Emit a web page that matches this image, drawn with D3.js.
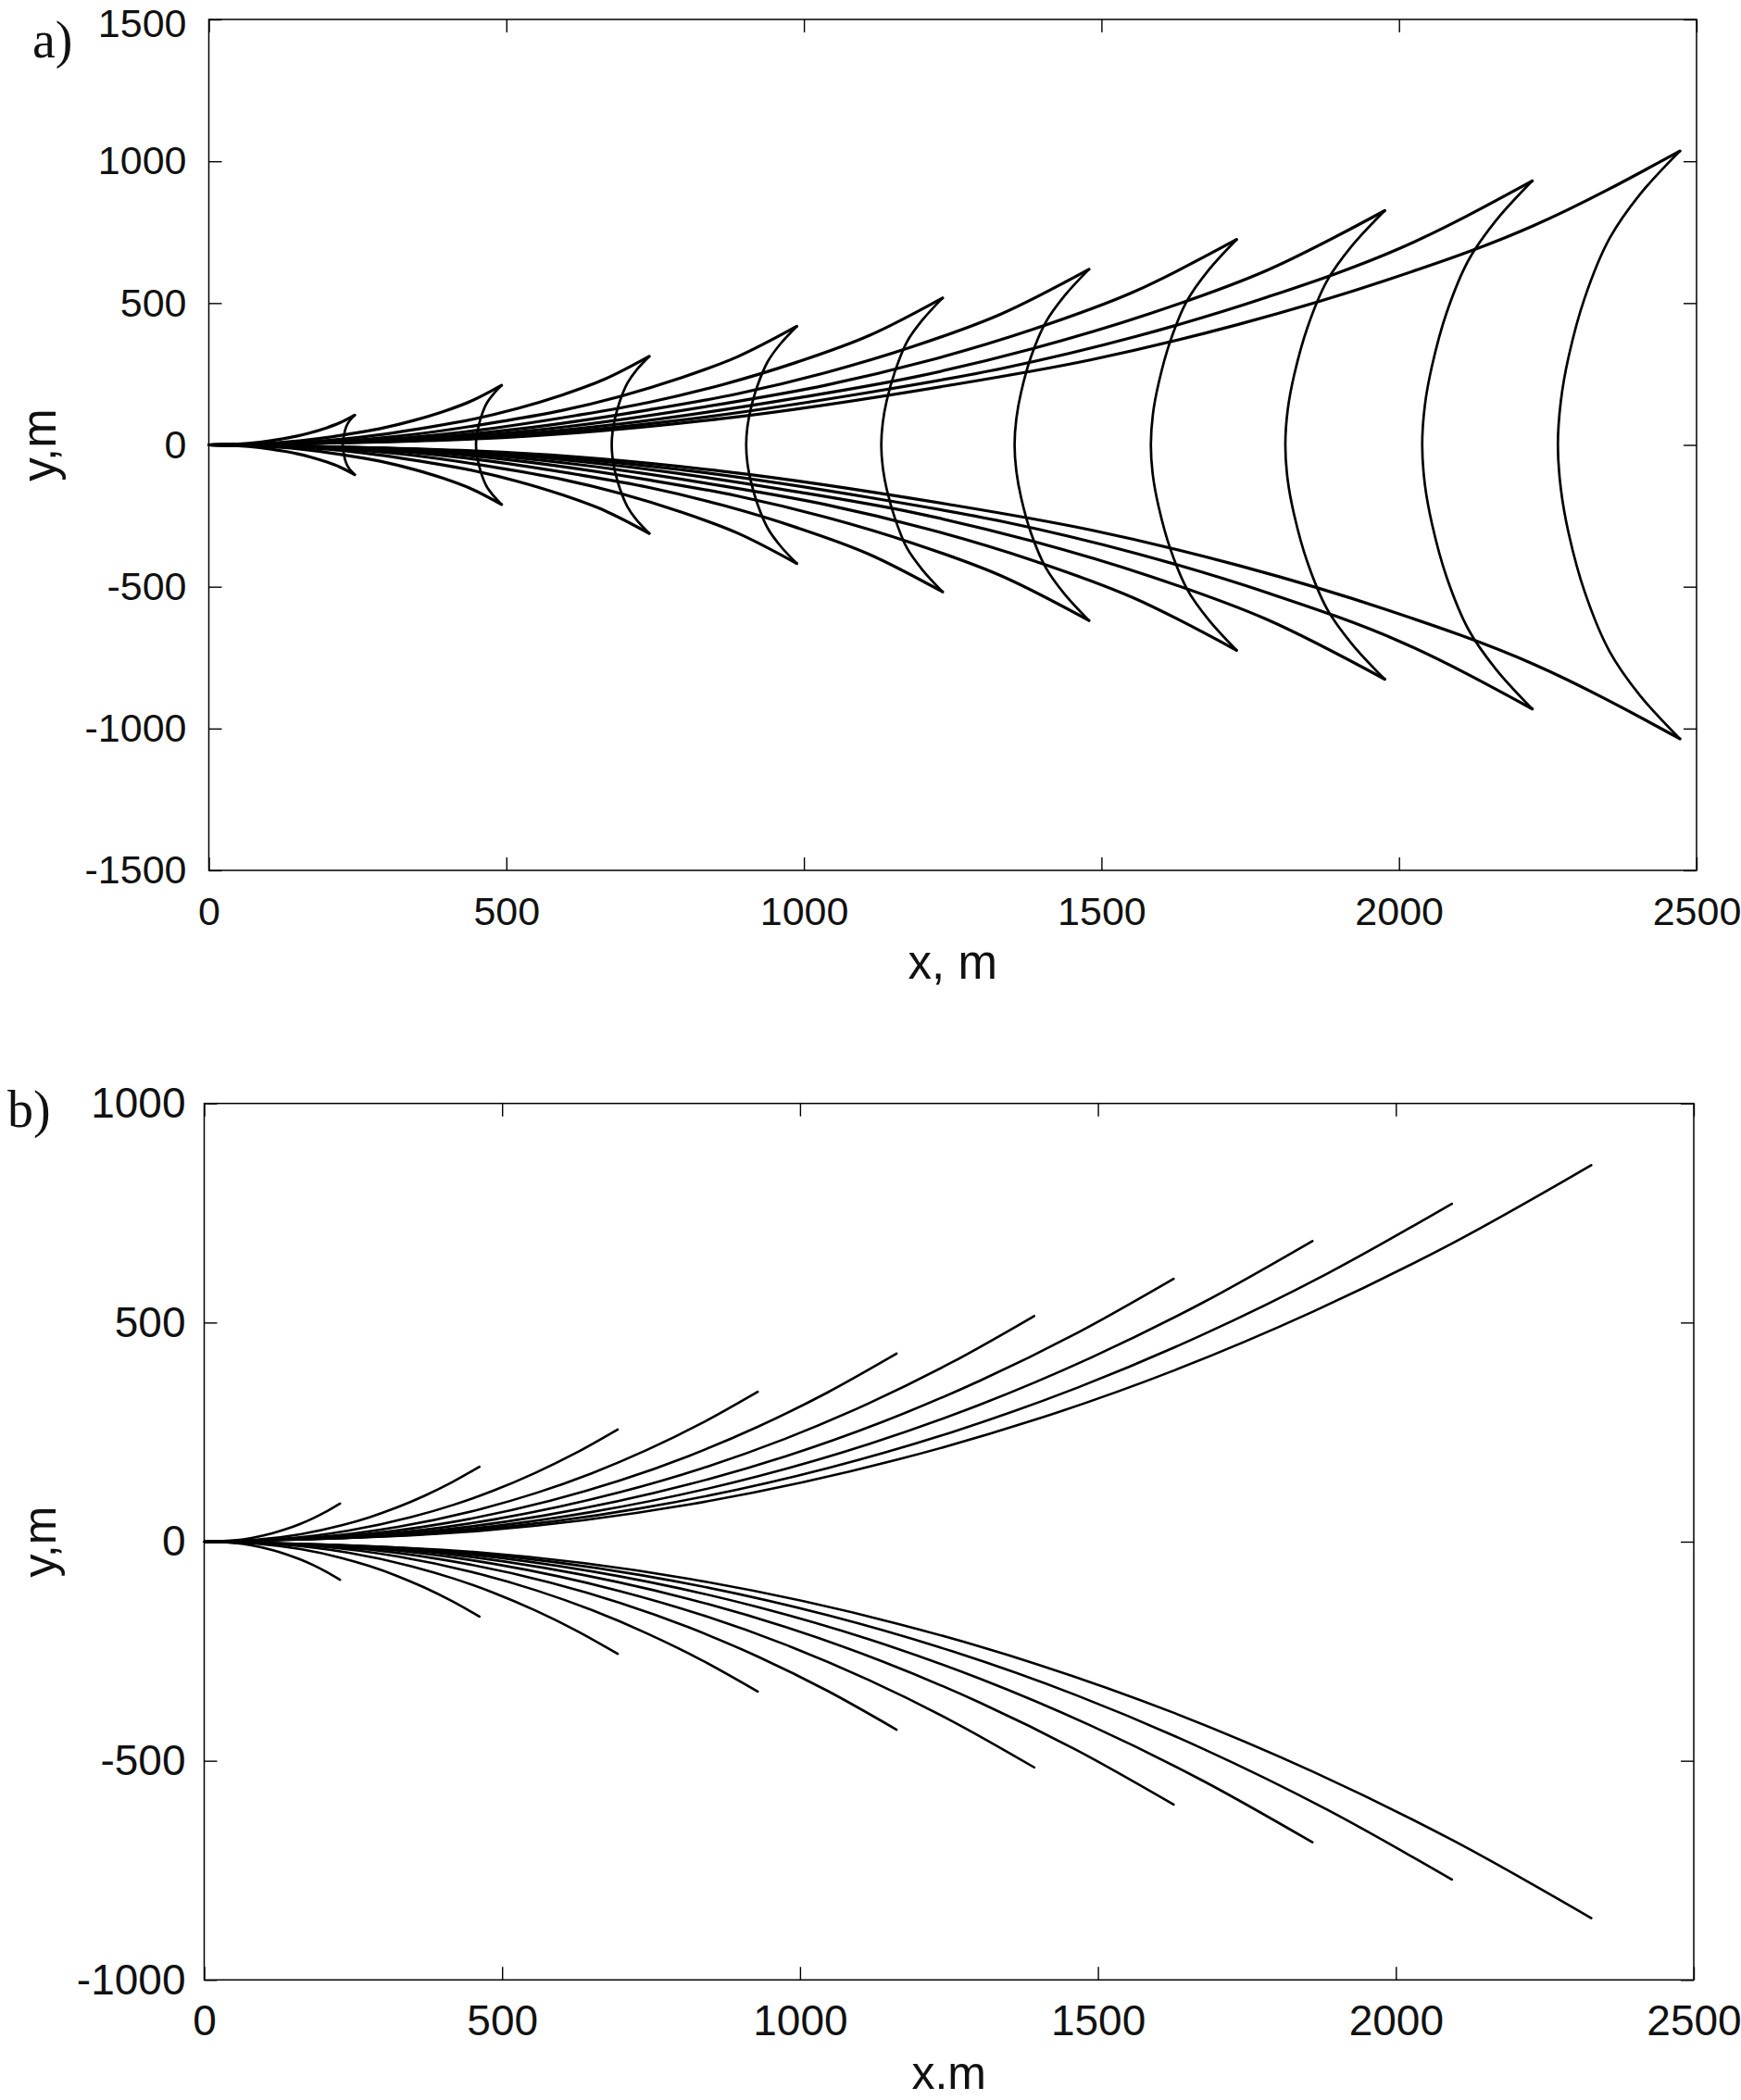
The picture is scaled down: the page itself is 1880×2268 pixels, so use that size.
<!DOCTYPE html>
<html>
<head>
<meta charset="utf-8">
<script src="https://cdn.jsdelivr.net/npm/d3@7"></script>
<style>
  html, body { margin: 0; padding: 0; background: #fff; }
  svg { display: block; }
</style>
</head>
<body>
<script>
// ---------------- DATA ----------------
const xTicks = [0, 500, 1000, 1500, 2000, 2500];
const aYTicks = [-1500, -1000, -500, 0, 500, 1000, 1500];
const bYTicks = [-1000, -500, 0, 500, 1000];

// Panel a: trajectories (x shared by upper & lower branch)
const aTrajX = [
  [0, 49, 86, 122.5, 147, 171.5, 196, 220.5, 245],
  [0, 98, 172, 246, 295, 344, 394, 443, 492],
  [0, 148, 259, 370, 444, 518, 592, 666, 740],
  [0, 198, 346, 494, 593, 692, 790, 889, 988],
  [0, 247, 432, 617, 740, 863, 986, 1110, 1233],
  [0, 296, 518, 740, 887, 1035, 1183, 1331, 1479],
  [0, 345, 605, 864, 1036, 1209, 1382, 1554, 1727],
  [0, 395, 692, 988, 1186, 1383, 1581, 1778, 1976],
  [0, 445, 778, 1112, 1334, 1557, 1779, 2002, 2224],
  [0, 494, 865, 1236, 1483, 1730, 1978, 2225, 2472]
];
const aUpperY = [
  [0, 2.6, 9.5, 21, 30.5, 43, 58.8, 78.2, 105],
  [0, 5.3, 18.9, 42, 60.9, 86.1, 117.6, 156.5, 210],
  [0, 7.8, 28.1, 62.4, 90.5, 127.9, 174.7, 232.4, 312],
  [0, 10.5, 37.6, 83.6, 121.2, 171.4, 234.1, 311.4, 418],
  [0, 13, 46.6, 103.6, 150.2, 212.4, 290.1, 385.9, 518],
  [0, 15.5, 55.7, 123.8, 179.5, 253.8, 346.6, 461.2, 619],
  [0, 18.1, 65.2, 144.8, 210, 296.8, 405.4, 539.4, 724],
  [0, 20.7, 74.3, 165.2, 239.5, 338.7, 462.6, 615.4, 826],
  [0, 23.3, 83.8, 186.2, 270, 381.7, 521.4, 693.6, 931],
  [0, 25.9, 93.2, 207.2, 300.4, 424.8, 580.2, 771.8, 1036]
];
const aLowerY = [
  [0, -2.6, -9.5, -21, -30.5, -43, -58.8, -78.2, -105],
  [0, -5.3, -18.9, -42, -60.9, -86.1, -117.6, -156.5, -210],
  [0, -7.8, -28.1, -62.4, -90.5, -127.9, -174.7, -232.4, -312],
  [0, -10.5, -37.6, -83.6, -121.2, -171.4, -234.1, -311.4, -418],
  [0, -13, -46.6, -103.6, -150.2, -212.4, -290.1, -385.9, -518],
  [0, -15.5, -55.7, -123.8, -179.5, -253.8, -346.6, -461.2, -619],
  [0, -18.1, -65.2, -144.8, -210, -296.8, -405.4, -539.4, -724],
  [0, -20.7, -74.3, -165.2, -239.5, -338.7, -462.6, -615.4, -826],
  [0, -23.3, -83.8, -186.2, -270, -381.7, -521.4, -693.6, -931],
  [0, -25.9, -93.2, -207.2, -300.4, -424.8, -580.2, -771.8, -1036]
];
// Panel a: fronts (arcs), from upper tip to lower tip
const aArcX = [
  [245, 238, 233, 229, 227, 225.5, 225, 225.5, 227, 229, 233, 238, 245],
  [492, 478, 467, 458.5, 453, 450, 449, 450, 453, 458.5, 467, 478, 492],
  [740, 719, 703.5, 691, 682.5, 678.5, 677, 678.5, 682.5, 691, 703.5, 719, 740],
  [988, 960, 939, 922, 910.5, 905, 903, 905, 910.5, 922, 939, 960, 988],
  [1233, 1199, 1173, 1153, 1139, 1132.5, 1130, 1132.5, 1139, 1153, 1173, 1199, 1233],
  [1479, 1438, 1406.5, 1381.5, 1365, 1357, 1354, 1357, 1365, 1381.5, 1406.5, 1438, 1479],
  [1727, 1679.5, 1643.5, 1615, 1596, 1586.5, 1583, 1586.5, 1596, 1615, 1643.5, 1679.5, 1727],
  [1976, 1921, 1879, 1846, 1824, 1813, 1809, 1813, 1824, 1846, 1879, 1921, 1976],
  [2224, 2163, 2117, 2080, 2055.5, 2043.5, 2039, 2043.5, 2055.5, 2080, 2117, 2163, 2224],
  [2472, 2404, 2353, 2312, 2285, 2272, 2267, 2272, 2285, 2312, 2353, 2404, 2472]
];
const aArcY = [
  [105, 89, 73.5, 52.5, 31.5, 16, 0, -16, -31.5, -52.5, -73.5, -89, -105],
  [210, 178.5, 147, 105, 63, 31.5, 0, -31.5, -63, -105, -147, -178.5, -210],
  [312, 265, 218, 156, 94, 47, 0, -47, -94, -156, -218, -265, -312],
  [418, 355, 293, 209, 125, 63, 0, -63, -125, -209, -293, -355, -418],
  [518, 440, 363, 259, 155, 78, 0, -78, -155, -259, -363, -440, -518],
  [619, 526, 433, 310, 186, 93, 0, -93, -186, -310, -433, -526, -619],
  [724, 615, 507, 362, 217, 109, 0, -109, -217, -362, -507, -615, -724],
  [826, 702, 578, 413, 248, 124, 0, -124, -248, -413, -578, -702, -826],
  [931, 791, 652, 466, 279, 140, 0, -140, -279, -466, -652, -791, -931],
  [1036, 881, 725, 518, 311, 155, 0, -155, -311, -518, -725, -881, -1036]
];

// Panel b: trajectories (x shared by upper & lower branch)
const bTrajX = [
  [0, 45.6, 79.8, 114, 136.8, 159.6, 182.4, 205.2, 228],
  [0, 92.4, 161.7, 231, 277.2, 323.4, 369.6, 415.8, 462],
  [0, 138.8, 242.9, 347, 416.4, 485.8, 555.2, 624.6, 694],
  [0, 185.8, 325.2, 464.5, 557.4, 650.3, 743.2, 836.1, 929],
  [0, 232.4, 406.7, 581, 697.2, 813.4, 929.6, 1045.8, 1162],
  [0, 278.6, 487.6, 696.5, 835.8, 975.1, 1114.4, 1253.7, 1393],
  [0, 325.4, 569.5, 813.5, 976.2, 1138.9, 1301.6, 1464.3, 1627],
  [0, 372, 651, 930, 1116, 1302, 1488, 1674, 1860],
  [0, 418.8, 732.9, 1047, 1256.4, 1465.8, 1675.2, 1884.6, 2094],
  [0, 465.6, 814.8, 1164, 1396.8, 1629.6, 1862.4, 2095.2, 2328]
];
const bUpperY = [
  [0, 2.5, 8.6, 19, 28.3, 39.7, 53.2, 69, 87],
  [0, 5, 16.9, 37.3, 55.6, 78, 104.7, 135.6, 171],
  [0, 7.4, 25.3, 55.8, 83.2, 116.7, 156.7, 203, 256],
  [0, 9.9, 33.9, 74.6, 111.2, 156, 209.3, 271.2, 342],
  [0, 12.4, 42.5, 93.5, 139.4, 195.6, 262.5, 340.2, 429],
  [0, 14.9, 51, 112.3, 167.4, 234.8, 315.2, 408.4, 515],
  [0, 17.4, 59.4, 130.8, 195, 273.6, 367.2, 475.8, 600],
  [0, 19.9, 67.9, 149.5, 223, 312.8, 419.8, 544, 686],
  [0, 22.4, 76.3, 168.1, 250.6, 351.6, 471.9, 611.4, 771],
  [0, 24.9, 85, 187.3, 279.2, 391.7, 525.7, 681.2, 859]
];
const bLowerY = [
  [0, -2.5, -8.6, -19, -28.3, -39.7, -53.2, -69, -87],
  [0, -5, -16.9, -37.3, -55.6, -78, -104.7, -135.6, -171],
  [0, -7.4, -25.3, -55.8, -83.2, -116.7, -156.7, -203, -256],
  [0, -9.9, -33.9, -74.6, -111.2, -156, -209.3, -271.2, -342],
  [0, -12.4, -42.5, -93.5, -139.4, -195.6, -262.5, -340.2, -429],
  [0, -14.9, -51, -112.3, -167.4, -234.8, -315.2, -408.4, -515],
  [0, -17.4, -59.4, -130.8, -195, -273.6, -367.2, -475.8, -600],
  [0, -19.9, -67.9, -149.5, -223, -312.8, -419.8, -544, -686],
  [0, -22.4, -76.3, -168.1, -250.6, -351.6, -471.9, -611.4, -771],
  [0, -24.9, -85, -187.3, -279.2, -391.7, -525.7, -681.2, -859]
];

// ---------------- LAYOUT ----------------
const W = 1880, H = 2268;
const svg = d3.select("body").append("svg")
  .attr("width", W).attr("height", H)
  .attr("viewBox", `0 0 ${W} ${H}`);
svg.append("rect").attr("width", W).attr("height", H).attr("fill", "#fff");

const zip = (xs, ys) => xs.map((v, i) => [v, ys[i]]);

function drawPanel(cfg) {
  const x = d3.scaleLinear().domain([0, 2500]).range([cfg.left, cfg.right]);
  const y = d3.scaleLinear().domain(cfg.yDomain).range([cfg.bottom, cfg.top]);
  const g = svg.append("g");
  const fmt = d => String(d);

  // lines
  const trajLine = d3.line().x(d => x(d[0])).y(d => y(d[1])).curve(d3.curveMonotoneX);
  const lines = g.append("g").attr("fill", "none").attr("stroke", "#000")
    .attr("stroke-linejoin", "round").attr("stroke-linecap", "round");
  cfg.trajX.forEach((xs, i) => {
    lines.append("path").attr("d", trajLine(zip(xs, cfg.upperY[i]))).attr("stroke-width", cfg.trajW);
    lines.append("path").attr("d", trajLine(zip(xs, cfg.lowerY[i]))).attr("stroke-width", cfg.trajW);
  });
  if (cfg.arcX) {
    const arcLine = d3.line().x(d => x(d[0])).y(d => y(d[1])).curve(d3.curveCatmullRom.alpha(0.5));
    cfg.arcX.forEach((xs, i) => {
      lines.append("path").attr("d", arcLine(zip(xs, cfg.arcY[i]))).attr("stroke-width", cfg.arcW);
    });
  }

  // axes (ticks pointing inward, box)
  const font = "'Liberation Sans', Arial, sans-serif";
  const bottom = g.append("g").attr("transform", `translate(0,${cfg.bottom})`)
    .call(d3.axisBottom(x).tickValues(xTicks).tickFormat(fmt)
      .tickSizeInner(-cfg.tickLen).tickSizeOuter(0).tickPadding(cfg.xPad));
  const left = g.append("g").attr("transform", `translate(${cfg.left},0)`)
    .call(d3.axisLeft(y).tickValues(cfg.yTicks).tickFormat(fmt)
      .tickSizeInner(-cfg.tickLen).tickSizeOuter(0).tickPadding(cfg.yPad));
  const top = g.append("g").attr("transform", `translate(0,${cfg.top})`)
    .call(d3.axisTop(x).tickValues(xTicks).tickFormat("")
      .tickSizeInner(-cfg.tickLen).tickSizeOuter(0));
  const right = g.append("g").attr("transform", `translate(${cfg.right},0)`)
    .call(d3.axisRight(y).tickValues(cfg.yTicks).tickFormat("")
      .tickSizeInner(-cfg.tickLen).tickSizeOuter(0));
  [bottom, left, top, right].forEach(a => {
    a.select(".domain").remove();
    a.selectAll("line").attr("stroke", "#000").attr("stroke-width", 1.4);
    a.selectAll("text").attr("font-family", font).attr("font-size", cfg.fontSize).attr("fill", "#111");
  });
  bottom.selectAll("text").attr("dy", "0.71em");
  // topmost y label sits slightly lower so it stays inside the page
  const topVal = cfg.yDomain[1];
  left.selectAll(".tick").filter(d => d === topVal).select("text")
    .attr("y", cfg.topLabelShift);
  g.append("rect")
    .attr("x", cfg.left).attr("y", cfg.top)
    .attr("width", cfg.right - cfg.left).attr("height", cfg.bottom - cfg.top)
    .attr("fill", "none").attr("stroke", "#000").attr("stroke-width", 1.5);

  // titles
  g.append("text").attr("x", (cfg.left + cfg.right) / 2).attr("y", cfg.xTitleY)
    .attr("text-anchor", "middle").attr("font-family", font).attr("font-size", cfg.titleSize)
    .attr("fill", "#111").text(cfg.xTitle);
  g.append("text")
    .attr("transform", `translate(${cfg.yTitleX},${(cfg.top + cfg.bottom) / 2}) rotate(-90)`)
    .attr("text-anchor", "middle").attr("font-family", font).attr("font-size", cfg.titleSize)
    .attr("fill", "#111").text("y,m");
  g.append("text").attr("x", cfg.tagX).attr("y", cfg.tagY)
    .attr("font-family", "'Liberation Serif', 'Times New Roman', serif").attr("font-size", 56)
    .attr("fill", "#111").text(cfg.tag);
}

drawPanel({
  left: 225.5, right: 1832, top: 21, bottom: 940,
  yDomain: [-1500, 1500], yTicks: aYTicks,
  trajX: aTrajX, upperY: aUpperY, lowerY: aLowerY,
  arcX: aArcX, arcY: aArcY,
  trajW: 3.2, arcW: 2.7,
  tickLen: 14, fontSize: 43, xPad: 28, yPad: 24, topLabelShift: 5,
  titleSize: 51, xTitle: "x, m", xTitleY: 1057, yTitleX: 60,
  tag: "a)", tagX: 35, tagY: 62
});

drawPanel({
  left: 220.5, right: 1829, top: 1191.7, bottom: 2138.3,
  yDomain: [-1000, 1000], yTicks: bYTicks,
  trajX: bTrajX, upperY: bUpperY, lowerY: bLowerY,
  trajW: 2.6,
  tickLen: 14, fontSize: 46, xPad: 27, yPad: 20, topLabelShift: 0,
  titleSize: 50, xTitle: "x.m", xTitleY: 2256, yTitleX: 60,
  tag: "b)", tagX: 8, tagY: 1217
});
</script>
</body>
</html>
